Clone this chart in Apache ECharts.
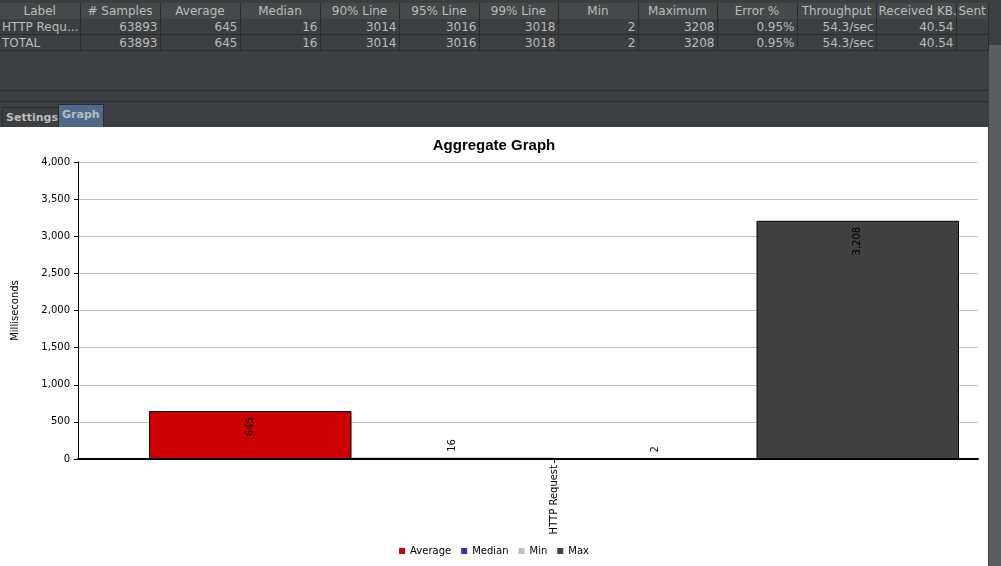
<!DOCTYPE html>
<html>
<head>
<meta charset="utf-8">
<script src="https://cdn.jsdelivr.net/npm/echarts@6/dist/echarts.min.js"></script>
<style>
  body {margin:0; width:1001px; height:566px; background:#3c3f41; font-family:"DejaVu Sans", sans-serif; overflow:hidden; position:relative;}
  table {position:absolute; left:0; top:3px; border-collapse:collapse; font-size:12px; color:#bbbbbb; table-layout:fixed; width:988px;}
  th {font-weight:normal; height:16px; padding:0 2px; border-right:1px solid #2b2b2b; background:#45494a; white-space:nowrap; overflow:hidden;}
  td {height:15px; padding:0 2px; text-align:right; border-right:1px solid #2b2b2b; border-bottom:1px solid #2b2b2b; white-space:nowrap; overflow:hidden;}
  td:first-child {text-align:left;}
  #split {position:absolute; left:0; top:90px; width:988px; height:10px; border-top:1px solid #2b2b2b; border-bottom:1px solid #2b2b2b;}
  #tabs {position:absolute; left:0; top:104px; height:22px;}
  .tab {position:absolute; top:3px; height:19px; font-size:11px; font-weight:bold; color:#bbbbbb; padding:0 3px; line-height:20px; border:1px solid #2b2b2b; background:#3c3f41; white-space:nowrap;}
  #chart {position:absolute; left:0; top:127px; width:988px; height:439px; background:#fff;}
  #scroll {position:absolute; left:989px; top:45px; width:12px; height:521px; background:#5a5e60;}
</style>
</head>
<body>
<table id="tbl"></table>
<div id="split"></div>
<div id="tabs">
  <div class="tab" style="left:2px;width:50px;">Settings</div>
  <div class="tab" style="left:58px;top:0;height:22px;width:38px;background:#4b6a8c;">Graph</div>
</div>
<div id="scroll"></div>
<div id="chart"></div>
<script>
const columns = ['Label', '# Samples', 'Average', 'Median', '90% Line', '95% Line', '99% Line', 'Min', 'Maximum', 'Error %', 'Throughput', 'Received KB...', 'Sent'];
const colWidths = [80, 80, 80, 80, 79, 80, 79, 80, 79, 80, 79, 80, 32];
const rows = [
    ['HTTP Requ...', '63893', '645', '16', '3014', '3016', '3018', '2', '3208', '0.95%', '54.3/sec', '40.54', ''],
    ['TOTAL', '63893', '645', '16', '3014', '3016', '3018', '2', '3208', '0.95%', '54.3/sec', '40.54', '']
];

const categories = ['HTTP Request'];
const seriesNames = ['Average', 'Median', 'Min', 'Max'];
const seriesColors = ['#cc0000', '#3333bb', '#c0c0c0', '#404040'];
const averageData = [645];
const medianData = [16];
const minData = [2];
const maxData = [3208];

let html = '<colgroup>' + colWidths.map(w => `<col style="width:${w}px">`).join('') + '</colgroup>';
html += '<tr>' + columns.map(c => `<th>${c}</th>`).join('') + '</tr>';
rows.forEach(r => { html += '<tr>' + r.map(v => `<td>${v}</td>`).join('') + '</tr>'; });
document.getElementById('tbl').innerHTML = html;

const chartInstance = echarts.init(document.getElementById('chart'));
const allData = [averageData, medianData, minData, maxData];
const font = {fontSize: 10, color: '#000', fontFamily: 'DejaVu Sans'};

chartInstance.setOption({
    animation: false,
    title: {
        text: 'Aggregate Graph',
        left: 'center',
        top: 6,
        textStyle: {color: '#000', fontSize: 15, fontWeight: 'bold', fontFamily: 'Liberation Sans'}
    },
    legend: {
        bottom: 5,
        itemWidth: 6,
        itemHeight: 6,
        itemGap: 10,
        icon: 'rect',
        itemStyle: {borderWidth: 0},
        textStyle: font,
        data: seriesNames
    },
    // grid 0: frame, y axis, grid lines; grid 1: bars (JFreeChart leaves uneven margins)
    grid: [
        {left: 78, right: 10, top: 35, bottom: 107},
        {left: 149, right: 29, top: 35, bottom: 107}
    ],
    xAxis: [
        {
            type: 'value', gridIndex: 0, min: 0, max: 1,
            axisLine: {show: true, onZero: false, lineStyle: {color: '#000', width: 2}},
            axisTick: {show: false}, axisLabel: {show: false}, splitLine: {show: false}
        },
        {
            type: 'category', gridIndex: 1, data: categories,
            axisLine: {show: false},
            axisTick: {show: true, alignWithLabel: true, length: 4, lineStyle: {color: '#000'}},
            axisLabel: Object.assign({rotate: 90, margin: 6}, font)
        }
    ],
    yAxis: [
        {
            type: 'value', gridIndex: 0, min: 0, max: 4000, interval: 500,
            name: 'Milliseconds',
            nameLocation: 'middle',
            nameGap: 58,
            nameTextStyle: font,
            axisLine: {show: true, lineStyle: {color: '#000'}},
            axisTick: {show: true, length: 4, lineStyle: {color: '#000'}},
            axisLabel: Object.assign({formatter: v => v.toLocaleString('en-US')}, font),
            splitLine: {lineStyle: {color: '#c0c0c0'}}
        },
        {
            type: 'value', gridIndex: 1, min: 0, max: 4000, interval: 500,
            show: false, splitLine: {show: false}
        }
    ],
    series: seriesNames.map((name, i) => ({
        name: name,
        type: 'bar',
        xAxisIndex: 1,
        yAxisIndex: 1,
        data: allData[i],
        barGap: '0%',
        barCategoryGap: '0%',
        itemStyle: {color: seriesColors[i], borderColor: '#000', borderWidth: 1},
        label: Object.assign({
            show: true,
            position: allData[i][0] > 200 ? 'insideTop' : 'top',
            rotate: 90,
            align: allData[i][0] > 200 ? 'right' : 'left',
            verticalAlign: 'middle',
            distance: 6,
            formatter: p => p.value.toLocaleString('en-US')
        }, font)
    }))
});
</script>
</body>
</html>
